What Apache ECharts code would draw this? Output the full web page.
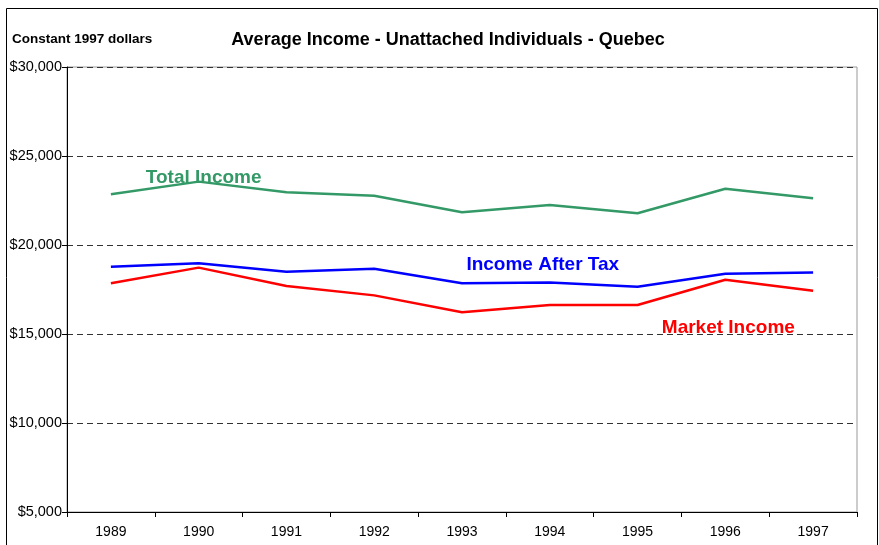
<!DOCTYPE html>
<html>
<head>
<meta charset="utf-8">
<script src="https://cdn.jsdelivr.net/npm/echarts@6/dist/echarts.min.js"></script>
<style>
  html, body { margin: 0; padding: 0; background: #fff; }
  #chart { width: 879px; height: 545px; }
</style>
</head>
<body>
<div id="chart"></div>
<script>
var years = ['1989', '1990', '1991', '1992', '1993', '1994', '1995', '1996', '1997']
var totalIncome = [22850, 23560, 22960, 22770, 21840, 22250, 21780, 23160, 22620]
var afterTax = [18780, 18970, 18500, 18670, 17850, 17900, 17660, 18390, 18460]
var marketIncome = [17850, 18730, 17700, 17170, 16220, 16630, 16630, 18050, 17430]

var font = "'Liberation Sans', Arial, sans-serif"

// put the series name as a label on one point of the line
function withLabel (values, idx, text, color, offset) {
  return values.map(function (v, i) {
    if (i !== idx) return v
    return {
      value: v,
      label: {
        show: true,
        position: 'inside',
        offset: offset,
        formatter: text,
        color: color,
        fontFamily: font,
        fontWeight: 'bold',
        fontSize: 19
      }
    }
  })
}

function lineSeries (name, color, values, idx, offset) {
  return {
    name: name,
    type: 'line',
    symbol: 'circle',
    symbolSize: 0.1,
    itemStyle: { color: 'rgba(0,0,0,0)' },
    lineStyle: { color: color, width: 2.5 },
    data: withLabel(values, idx, name, color, offset)
  }
}

var chart = echarts.init(document.getElementById('chart'))
chart.setOption({
  animation: false,
  backgroundColor: '#fff',
  title: {
    text: 'Average Income - Unattached Individuals - Quebec',
    left: 443,
    textAlign: 'center',
    top: 26,
    textStyle: { fontFamily: font, fontWeight: 'bold', fontSize: 18, color: '#000' }
  },
  graphic: [{
    type: 'rect',
    shape: { x: 6.5, y: 8.5, width: 871, height: 545 },
    style: { fill: 'none', stroke: '#000', lineWidth: 1 },
    silent: true
  }, {
    type: 'text',
    left: 12,
    top: 32,
    style: { text: 'Constant 1997 dollars', fontFamily: font, fontWeight: 'bold', fontSize: 13.5, fill: '#000' }
  }],
  grid: {
    left: 67,
    right: 22,
    top: 67,
    bottom: 33,
    show: true,
    borderColor: '#999',
    borderWidth: 1
  },
  xAxis: {
    type: 'category',
    data: years,
    boundaryGap: true,
    axisLine: { lineStyle: { color: '#000', width: 1 } },
    axisTick: { show: true, length: 5, lineStyle: { color: '#000' } },
    axisLabel: { color: '#000', fontFamily: font, fontSize: 14, margin: 13 }
  },
  yAxis: {
    type: 'value',
    min: 5000,
    max: 30000,
    interval: 5000,
    axisLine: { show: true, lineStyle: { color: '#000', width: 1 } },
    axisTick: { show: true, length: 5, lineStyle: { color: '#000' } },
    axisLabel: {
      color: '#000',
      fontFamily: font,
      fontSize: 14.5,
      margin: 5,
      formatter: function (v) { return '$' + v.toLocaleString('en-US') }
    },
    splitLine: { show: true, lineStyle: { color: '#333', type: [6, 4], width: 1 } }
  },
  series: [
    lineSeries('Total Income', '#339966', totalIncome, 1, [5, -4]),
    lineSeries('Income After Tax', '#0000ff', afterTax, 5, [-7, -18]),
    lineSeries('Market Income', '#ff0000', marketIncome, 7, [3, 48])
  ]
})
</script>
</body>
</html>
